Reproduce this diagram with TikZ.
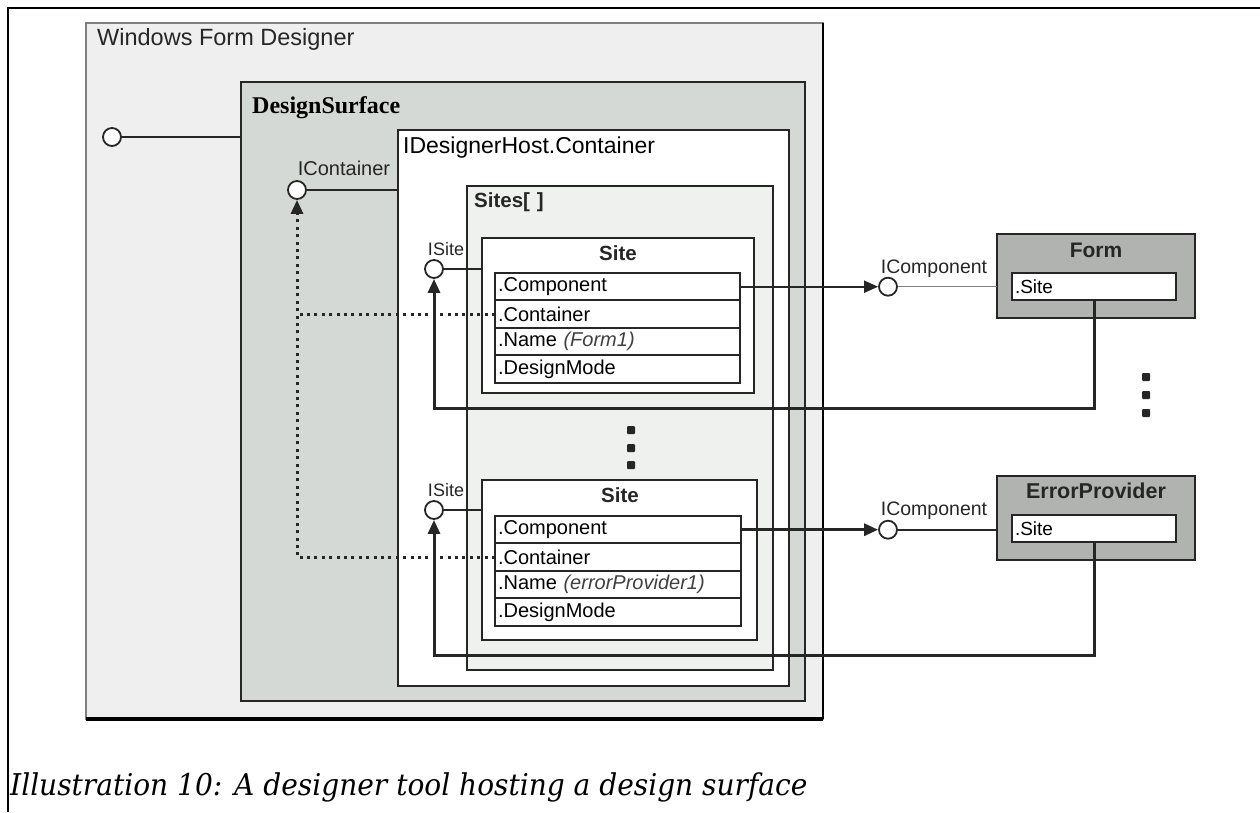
\documentclass[tikz,border=0pt]{standalone}
\usepackage{fontspec}
\setmainfont{Liberation Sans}
\newfontfamily\serifbold{Liberation Serif}
\newfontfamily\capfont[FakeStretch=0.935]{DejaVu Serif}
\usetikzlibrary{positioning,arrows.meta}

\definecolor{wfdgray}{HTML}{EFEFEF}
\definecolor{dsgray}{HTML}{D5D9D5}
\definecolor{sitesgray}{HTML}{EFF1EF}
\definecolor{compgray}{HTML}{B1B3B1}
\definecolor{linegray}{HTML}{262626}

\begin{document}
\begin{tikzpicture}[x=1pt,y=-1pt,
    box/.style={draw=linegray,line width=2pt,inner sep=0pt,outer sep=0pt,anchor=north west},
    row/.style={draw=linegray,line width=2pt,fill=white,inner xsep=3pt,inner ysep=0pt,outer sep=0pt,
        text width=239pt,minimum height=27.4pt,align=left,font=\fontsize{20}{22}\selectfont},
    field/.style={row,text width=158pt,font=\fontsize{19}{21}\selectfont},
    port/.style={circle,draw=linegray,line width=1.8pt,fill=white,minimum size=18pt,inner sep=0pt},
    lbl/.style={anchor=base west,inner sep=0pt,text=linegray},
    dotline/.style={draw=linegray,line width=3pt,dash pattern=on 3pt off 4.4pt},
    retline/.style={draw=linegray,line width=3pt},
    endtip/.style={-{Triangle[length=14pt,width=12pt]}},
    moredot/.style={fill=linegray,minimum size=8pt,inner sep=0pt,rounded corners=1pt}
    ]

    \useasboundingbox (0,0) rectangle (1260,812);
    \draw[line width=2pt] (8,812) -- (8,8) -- (1260,8);%page frame

    %containers
    \node[box,fill=wfdgray,draw=gray,line width=2pt,minimum width=737pt,minimum height=696pt] (wfd) at (86,23) {};
    \draw[line width=2pt] (wfd.north east) -- (wfd.south east);
    \draw[line width=3.5pt] (wfd.south west) -- (wfd.south east);
    \node[box,fill=dsgray,minimum width=564pt,minimum height=619pt] (ds) at (241,82) {};
    \node[box,fill=white,minimum width=391pt,minimum height=556pt] (host) at (398,130) {};
    \node[box,fill=sitesgray,minimum width=306pt,minimum height=484pt] (sites) at (467,186) {};
    \node[box,fill=white,minimum width=272pt,minimum height=155pt] (site1) at (482,238) {};
    \node[box,fill=white,minimum width=275pt,minimum height=160pt] (site2) at (482,480) {};

    \node[lbl,font=\fontsize{23.5}{25}\selectfont] (wfdtitle) at (97,45) {Windows Form Designer};
    \node[lbl,text=black,font=\serifbold\bfseries\fontsize{24}{26}\selectfont] (dstitle) at (252,113) {DesignSurface};
    \node[lbl,text=black,font=\fontsize{23}{25}\selectfont] (hosttitle) at (403,153) {IDesignerHost.Container};
    \node[lbl,font=\bfseries\fontsize{20.5}{22}\selectfont] (sitestitle) at (474,207) {Sites[\,\,]};
    \node[lbl,anchor=base,font=\bfseries\fontsize{20.5}{22}\selectfont] (site1title) at (618,260) {Site};
    \node[lbl,anchor=base,font=\bfseries\fontsize{20.5}{22}\selectfont] (site2title) at (620,502) {Site};

    %site 1 properties
    \node[row,anchor=north west] (comp1) at (495,273) {.Component};
    \node[row,below=0pt of comp1] (cont1) {.Container};
    \node[row,below=0pt of cont1] (name1) {.Name \textcolor{darkgray}{\itshape(Form1)}};
    \node[row,below=0pt of name1] (mode1) {.DesignMode};

    %site 2 properties
    \node[row,anchor=north west,text width=240pt] (comp2) at (495,516) {.Component};
    \node[row,text width=240pt,below=0pt of comp2] (cont2) {.Container};
    \node[row,text width=240pt,below=0pt of cont2] (name2) {.Name \textcolor{darkgray}{\itshape(errorProvider1)}};
    \node[row,text width=240pt,below=0pt of name2] (mode2) {.DesignMode};

    %components
    \node[box,fill=compgray,minimum width=198pt,minimum height=84pt] (form) at (997,234) {};
    \node[lbl,anchor=base,font=\bfseries\fontsize{21}{23}\selectfont] (formtitle) at (1096,257) {Form};
    \node[field,anchor=north west] (formsite) at (1012,273) {.Site};
    \node[box,fill=compgray,minimum width=198pt,minimum height=84pt] (errp) at (997,476) {};
    \node[lbl,anchor=base,font=\bfseries\fontsize{21.5}{23}\selectfont] (errptitle) at (1096,498) {ErrorProvider};
    \node[field,anchor=north west] (errpsite) at (1012,515) {.Site};

    %interfaces
    \node[port] (hostport) at (112,137) {};
    \node[port] (icont) at (297,190) {};
    \node[lbl,anchor=base,font=\fontsize{20}{22}\selectfont] (icontlabel) at (344,175) {IContainer};
    \node[port] (isite1) at (434,269) {};
    \node[lbl,anchor=base,font=\fontsize{18}{20}\selectfont] (isite1label) at (446,255) {ISite};
    \node[port] (isite2) at (434,510) {};
    \node[lbl,anchor=base,font=\fontsize{18}{20}\selectfont] (isite2label) at (446,496) {ISite};
    \node[port] (icomp1) at (888,286.7) {};
    \node[lbl,anchor=base,font=\fontsize{19.5}{21}\selectfont] (icomp1label) at (934,273) {IComponent};
    \node[port] (icomp2) at (888,529.7) {};
    \node[lbl,anchor=base,font=\fontsize{19.5}{21}\selectfont] (icomp2label) at (934,515) {IComponent};

    %more sites / components
    \node[moredot] (more1) at (631,430) {};
    \node[moredot] (more2) at (631,448) {};
    \node[moredot] (more3) at (631,465) {};
    \node[moredot] (more4) at (1146,377) {};
    \node[moredot] (more5) at (1146,395) {};
    \node[moredot] (more6) at (1146,413) {};

    %interface links
    \draw[linegray,line width=1.8pt] (hostport) -- (hostport -| ds.west);
    \draw[linegray,line width=1.8pt] (icont) -- (icont -| host.west);
    \draw[linegray,line width=1.8pt] (isite1) -- (isite1 -| site1.west);
    \draw[linegray,line width=1.8pt] (isite2) -- (isite2 -| site2.west);
    \draw[gray,line width=1.2pt] (icomp1) -- (icomp1 -| form.west);
    \draw[linegray,line width=1.8pt] (icomp2) -- (icomp2 -| errp.west);

    %component references
    \draw[linegray,line width=2pt,endtip] (comp1.east) -- (icomp1);
    \draw[linegray,line width=3pt,endtip] (comp2.east) -- (icomp2);

    %site references back to the sites
    \coordinate (ret1) at (0,408);
    \coordinate (ret2) at (0,655);
    \draw[retline,endtip] (formsite.south) -- (formsite.south |- ret1) -| (isite1.south);
    \draw[retline,endtip] (errpsite.south) -- (errpsite.south |- ret2) -| (isite2.south);

    %container references
    \draw[dotline] (cont1.west) -- (cont1.west -| icont);
    \draw[dotline,endtip] (cont2.west) -- (cont2.west -| icont) -- (icont.south);

    \node[anchor=base west,inner sep=0pt,font=\capfont\itshape\fontsize{30}{32}\selectfont] (caption) at (10,795) {Illustration 10: A designer tool hosting a design surface};

\end{tikzpicture}
\end{document}
